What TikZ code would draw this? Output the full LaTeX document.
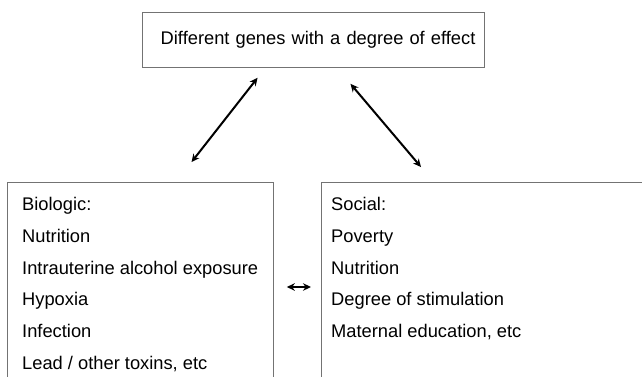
\documentclass[tikz,border=0pt]{standalone}
\usepackage{fontspec}
\setmainfont{Liberation Sans}
\usetikzlibrary{positioning,arrows.meta}

\begin{document}
\begin{tikzpicture}[x=1pt,y=-1pt,
    box/.style={draw=black!55,line width=0.8pt,anchor=north west},
    items/.style={align=left,inner sep=0pt,font=\fontsize{18.3}{31.8}\selectfont},
    link/.style={{Stealth[length=8pt,width=7.5pt]}-{Stealth[length=8pt,width=7.5pt]},line width=2pt}]
    \useasboundingbox (0,0) rectangle (642,377);
    \clip (0,0) rectangle (642,377);

    \node[box,minimum width=342,minimum height=55,text width=324,inner xsep=9,align=right,
          font=\fontsize{18.3}{22}\selectfont] (genes) at (142,12) {Different genes with a degree of effect};
    \node[box,minimum width=266,minimum height=230] (bio) at (7,182) {};   % runs past the bottom edge
    \node[box,minimum width=360,minimum height=230] (soc) at (321,182) {}; % runs past the right edge

    \node[items,below right=15pt and 15pt of bio.north west,anchor=north west] (biolist)
        {Biologic:\\Nutrition\\Intrauterine alcohol exposure\\Hypoxia\\Infection\\Lead / other toxins, etc};
    \node[items,below right=15pt and 10pt of soc.north west,anchor=north west] (soclist)
        {Social:\\Poverty\\Nutrition\\Degree of stimulation\\Maternal education, etc};

    \draw[link,shorten <=12.7pt,shorten >=25.3pt] ([xshift=-48pt]genes.south) -- ([xshift=35.5pt]bio.north);
    \draw[link,shorten <=21pt,shorten >=19.6pt]   ([xshift=23.5pt]genes.south) -- ([xshift=112.7pt]soc.north west);
    \draw[link,shorten <=13pt,shorten >=10pt]     ([yshift=-105pt]bio.north east) -- ([yshift=-105pt]soc.north west);
\end{tikzpicture}
\end{document}
